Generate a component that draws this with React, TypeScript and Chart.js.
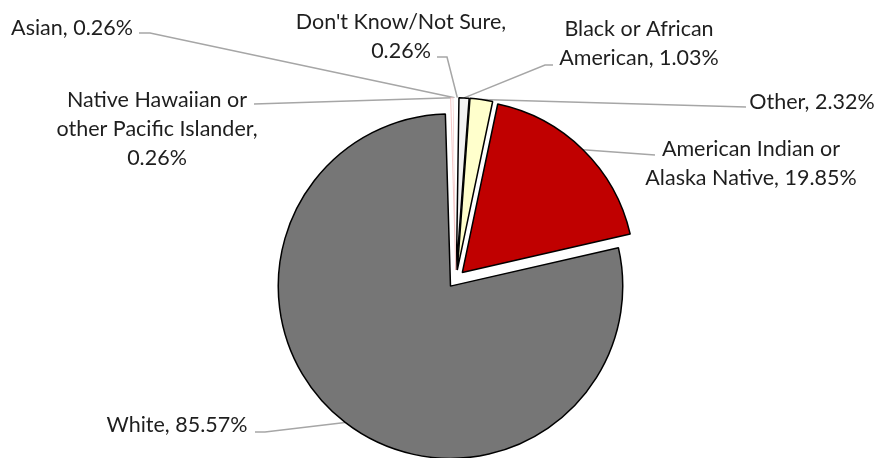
import React, { useEffect, useRef } from "react";
import { Chart, registerables } from "chart.js";

Chart.register(...registerables);

const categories = [
  "Don't Know/Not Sure",
  "Black or African American",
  "Other",
  "American Indian or Alaska Native",
  "White",
  "Native Hawaiian or other Pacific Islander",
  "Asian",
];
const percentages = [0.26, 1.03, 2.32, 19.85, 85.57, 0.26, 0.26];
const sliceColors = ["#FFFFFF", "#F2F2F2", "#FFFFCC", "#C00000", "#767676", "#FFFFFF", "#FFFFFF"];
const sliceBorders = ["#FFFFFF", "#000000", "#000000", "#000000", "#000000", "#F2B8B8", "#FFFFFF"];
const sliceBorderWidths = [0, 1.5, 1.5, 1.5, 1.5, 0.8, 0];

// label text lines (category + value)
const labelLines = [
  ["Don't Know/Not Sure,", "0.26%"],
  ["Black or African", "American, 1.03%"],
  ["Other, 2.32%"],
  ["American Indian or", "Alaska Native, 19.85%"],
  ["White, 85.57%"],
  ["Native Hawaiian or", "other Pacific Islander,", "0.26%"],
  ["Asian, 0.26%"],
];
// label placement: text center x, first line center y, leader start and elbow
const labelPlacement = [
  { x: 401, y: 22, start: [437, 57], elbow: [447, 57] },
  { x: 639, y: 29, start: [553, 65], elbow: [545, 65] },
  { x: 812, y: 102, start: [746, 107], elbow: null },
  { x: 751, y: 149, start: [655, 155], elbow: null },
  { x: 177, y: 425, start: [255, 432], elbow: [265, 432] },
  { x: 157, y: 100, start: [254, 104], elbow: null },
  { x: 72, y: 28, start: [139, 33], elbow: [150, 33] },
];

const EXPLODE = 9;
const LINE_H = 29;
const FONT = "21.5px Lato";

const explodedPiePlugin = {
  id: "explodedPie",
  beforeDatasetDraw(chart: any, args: any) {
    const ctx = chart.ctx;
    const meta = chart.getDatasetMeta(args.index);
    // leader lines first (under slices)
    ctx.save();
    ctx.strokeStyle = "#A6A6A6";
    ctx.lineWidth = 1.5;
    meta.data.forEach((arc: any, i: number) => {
      const p = labelPlacement[i];
      if (!p) return;
      const { x, y, startAngle, endAngle, outerRadius } = arc.getProps(
        ["x", "y", "startAngle", "endAngle", "outerRadius"],
        true
      );
      const half = (startAngle + endAngle) / 2;
      const ax = x + Math.cos(half) * (EXPLODE + outerRadius);
      const ay = y + Math.sin(half) * (EXPLODE + outerRadius);
      ctx.beginPath();
      ctx.moveTo(p.start[0], p.start[1]);
      if (p.elbow) ctx.lineTo(p.elbow[0], p.elbow[1]);
      ctx.lineTo(ax, ay);
      ctx.stroke();
    });
    ctx.restore();
    // exploded slices
    meta.data.forEach((arc: any) => {
      const { startAngle, endAngle } = arc.getProps(["startAngle", "endAngle"], true);
      const half = (startAngle + endAngle) / 2;
      ctx.save();
      ctx.translate(Math.cos(half) * EXPLODE, Math.sin(half) * EXPLODE);
      arc.draw(ctx);
      ctx.restore();
    });
    return false;
  },
  afterDatasetsDraw(chart: any) {
    const ctx = chart.ctx;
    ctx.save();
    ctx.font = FONT;
    ctx.fillStyle = "#1E1E1E";
    ctx.textAlign = "center";
    ctx.textBaseline = "middle";
    labelLines.forEach((lines, i) => {
      const p = labelPlacement[i];
      lines.forEach((t, j) => ctx.fillText(t, p.x, p.y + j * LINE_H));
    });
    ctx.restore();
  },
};

export default function App() {
  const ref = useRef<HTMLCanvasElement | null>(null);
  useEffect(() => {
    if (!ref.current) return;
    const chart = new Chart(ref.current, {
      type: "pie",
      data: {
        labels: categories,
        datasets: [
          {
            data: percentages,
            backgroundColor: sliceColors,
            borderColor: sliceBorders,
            borderWidth: sliceBorderWidths,
            offset: 0,
          },
        ],
      },
      options: {
        responsive: false,
        animation: false,
        events: [],
        layout: { padding: { top: 106, bottom: 6, left: 233, right: 200 } },
        plugins: {
          legend: { display: false },
          tooltip: { enabled: false },
        },
      },
      plugins: [explodedPiePlugin],
    });
    return () => chart.destroy();
  }, []);
  return (
    <div style={{ position: "absolute", left: 0, top: 0, width: 879, height: 458, background: "#fff" }}>
      <canvas ref={ref} width={879} height={458} />
    </div>
  );
}
